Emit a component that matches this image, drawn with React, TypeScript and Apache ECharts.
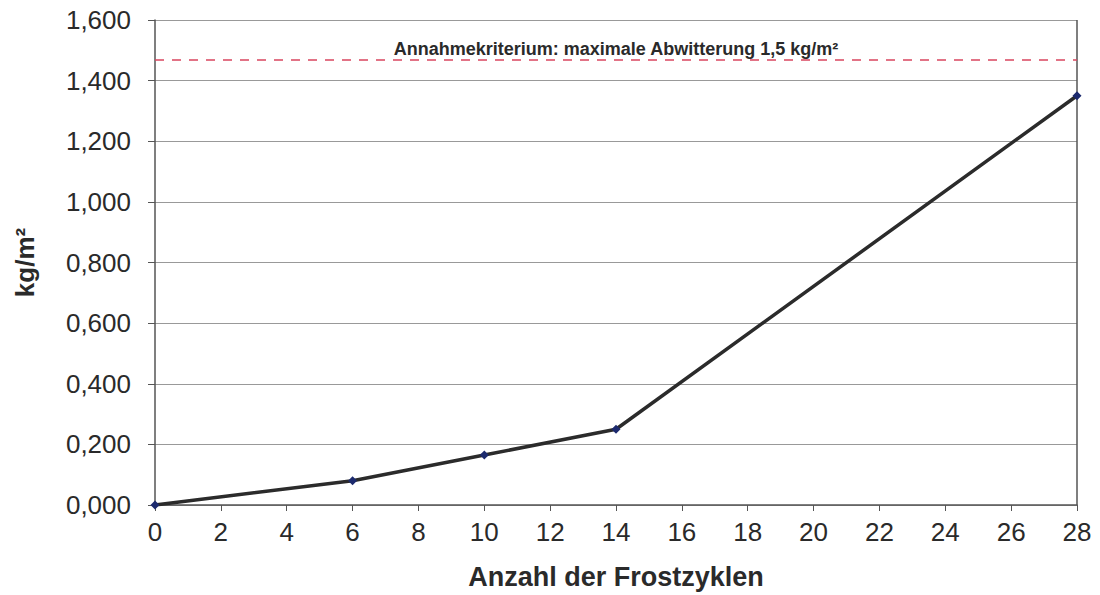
import React, { useEffect, useRef } from "react";
import * as echarts from "echarts";

const cycles = [0, 6, 10, 14, 28];
const scaling = [0, 0.08, 0.165, 0.25, 1.35];
const criterionValue = 1.47;
const criterionLabel = "Annahmekriterium: maximale Abwitterung 1,5 kg/m²";
const xTitle = "Anzahl der Frostzyklen";
const yTitle = "kg/m²";

export default function App() {
  const ref = useRef<HTMLDivElement>(null);
  useEffect(() => {
    if (!ref.current) return;
    const chart = echarts.init(ref.current, null, { renderer: "svg" });
    const font = "Liberation Sans, Arial, sans-serif";
    chart.setOption({
      animation: false,
      backgroundColor: "#ffffff",
      grid: { left: 155, right: 23, top: 20, bottom: 88 },
      xAxis: {
        type: "value",
        min: 0,
        max: 28,
        interval: 2,
        name: xTitle,
        nameLocation: "middle",
        nameGap: 58,
        nameTextStyle: { fontFamily: font, fontSize: 27, fontWeight: "bold", color: "#2a2a2a" },
        axisLine: { show: true, lineStyle: { color: "#555", width: 1.5 } },
        axisTick: { show: true, inside: false, length: 6, lineStyle: { color: "#555" } },
        axisLabel: { fontFamily: font, fontSize: 26, color: "#2a2a2a", margin: 14 },
        splitLine: { show: false },
      },
      yAxis: {
        type: "value",
        min: 0,
        max: 1.6,
        interval: 0.2,
        name: yTitle,
        nameLocation: "middle",
        nameGap: 117,
        nameRotate: 90,
        nameTextStyle: { fontFamily: font, fontSize: 26, fontWeight: "bold", color: "#2a2a2a" },
        axisLine: { show: true, lineStyle: { color: "#555", width: 1.5 } },
        axisTick: { show: true, inside: false, length: 7, lineStyle: { color: "#555" } },
        axisLabel: {
          fontFamily: font,
          fontSize: 26,
          color: "#2a2a2a",
          margin: 24,
          formatter: (v: number) => v.toFixed(3).replace(".", ","),
        },
        splitLine: { show: true, lineStyle: { color: "#999", width: 1 } },
      },
      series: [
        {
          type: "line",
          data: cycles.map((c, i) => [c, scaling[i]]),
          symbol: "diamond",
          symbolSize: 9,
          itemStyle: { color: "#1c2a6e" },
          lineStyle: { color: "#2b2b2b", width: 3.5 },
          z: 5,
          markLine: {
            silent: true,
            symbol: "none",
            lineStyle: { color: "#d9455f", type: [9, 8], width: 1.5 },
            label: {
              show: true,
              position: "insideMiddleTop",
              distance: 1,
              formatter: criterionLabel,
              fontFamily: font,
              fontSize: 18,
              fontWeight: "bold",
              color: "#2a2a2a",
            },
            data: [{ yAxis: criterionValue }],
          },
        },
        {
          type: "line",
          data: [[28, 0], [28, 1.6]],
          symbol: "none",
          lineStyle: { color: "#555", width: 1.5 },
          silent: true,
          z: 2,
        },
      ],
    });
    return () => chart.dispose();
  }, []);
  return (
    <div
      ref={ref}
      style={{ position: "absolute", left: 0, top: 0, width: 1100, height: 595 }}
    />
  );
}
